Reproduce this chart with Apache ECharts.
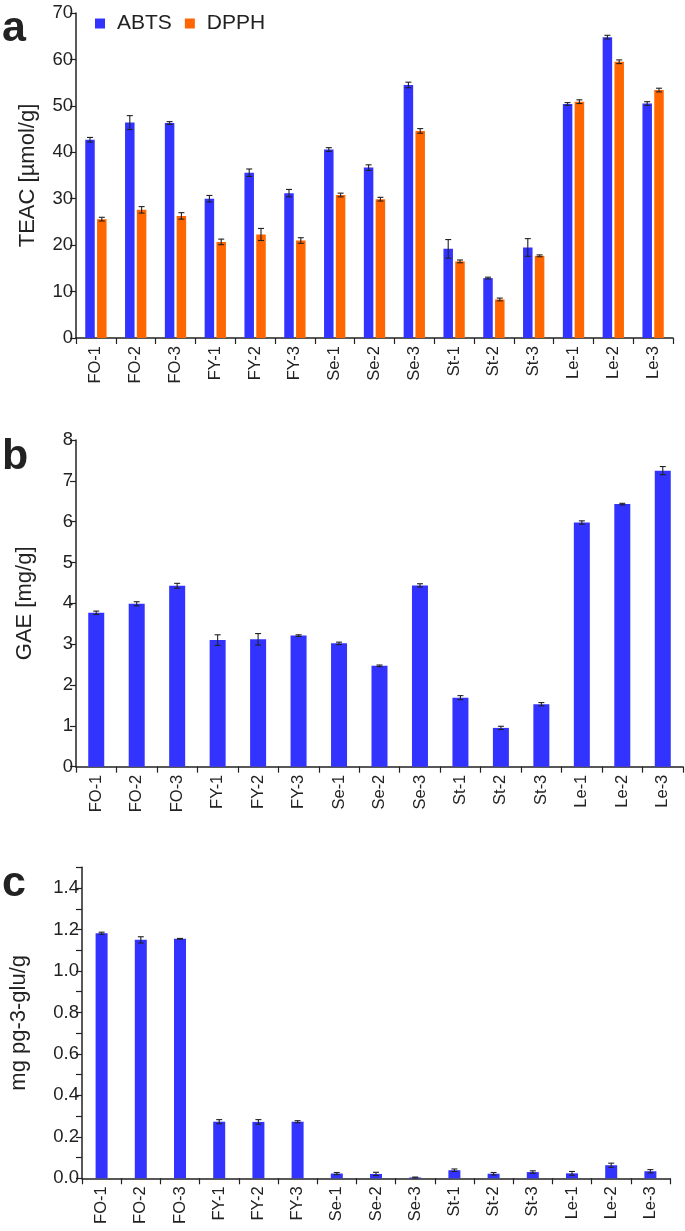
<!DOCTYPE html>
<html>
<head>
<meta charset="utf-8">
<script src="https://cdn.jsdelivr.net/npm/echarts@6/dist/echarts.min.js"></script>
<style>
html,body{margin:0;padding:0;background:#fff;}
#chart{width:685px;height:1231px;}
</style>
</head>
<body>
<div id="chart"></div>
<script>
const categories = ['FO-1','FO-2','FO-3','FY-1','FY-2','FY-3','Se-1','Se-2','Se-3','St-1','St-2','St-3','Le-1','Le-2','Le-3'];

// Panel a: TEAC [µmol/g]
const abts    = [42.7, 46.4, 46.3, 30.0, 35.6, 31.2, 40.6, 36.7, 54.5, 19.2, 12.9, 19.5, 50.4, 64.8, 50.5];
const abtsErr = [0.5, 1.5, 0.3, 0.7, 0.8, 0.8, 0.4, 0.6, 0.6, 2.0, 0.2, 1.9, 0.3, 0.4, 0.4];
const dpph    = [25.6, 27.6, 26.3, 20.7, 22.3, 21.0, 30.8, 29.9, 44.6, 16.5, 8.3, 17.7, 50.9, 59.5, 53.4];
const dpphErr = [0.4, 0.7, 0.7, 0.6, 1.3, 0.6, 0.4, 0.4, 0.5, 0.3, 0.3, 0.2, 0.4, 0.4, 0.4];

// Panel b: GAE [mg/g]
const gae    = [3.77, 3.99, 4.43, 3.10, 3.12, 3.21, 3.02, 2.47, 4.44, 1.69, 0.95, 1.53, 5.98, 6.43, 7.25];
const gaeErr = [0.04, 0.05, 0.06, 0.13, 0.14, 0.02, 0.03, 0.02, 0.04, 0.05, 0.04, 0.04, 0.04, 0.02, 0.10];

// Panel c: mg pg-3-glu/g
const anth    = [1.182, 1.150, 1.155, 0.273, 0.272, 0.273, 0.023, 0.021, 0.004, 0.039, 0.022, 0.030, 0.024, 0.063, 0.034];
const anthErr = [0.005, 0.015, 0.002, 0.010, 0.011, 0.005, 0.005, 0.008, 0.002, 0.006, 0.006, 0.006, 0.009, 0.010, 0.008];

const ticksA = [0, 70, 10];
const ticksB = [0, 8, 1];
const ticksC = [0, 1.5, 0.1];

const BLUE = '#3333ff';
const ORANGE = '#ff6600';
const INK = '#222222';
const FONT = '"Liberation Sans", Arial, Helvetica, sans-serif';

const chart = echarts.init(document.getElementById('chart'), null, {renderer: 'canvas'});

const barWA = 9.5, gapA = 2.3;

function errSeries(xi, yi, vals, errs, offset) {
  return {
    type: 'custom',
    xAxisIndex: xi, yAxisIndex: yi,
    z: 10,
    silent: true,
    data: vals.map((v, i) => [i, v - errs[i], v + errs[i]]),
    encode: {x: 0, y: [1, 2]},
    renderItem: function (params, api) {
      const lo = api.coord([api.value(0), api.value(1)]);
      const hi = api.coord([api.value(0), api.value(2)]);
      const x = lo[0] + offset;
      const hw = 3;
      const st = {stroke: INK, lineWidth: 1.1};
      return {
        type: 'group',
        children: [
          {type: 'line', shape: {x1: x, y1: lo[1], x2: x, y2: hi[1]}, style: st},
          {type: 'line', shape: {x1: x - hw, y1: lo[1], x2: x + hw, y2: lo[1]}, style: st},
          {type: 'line', shape: {x1: x - hw, y1: hi[1], x2: x + hw, y2: hi[1]}, style: st}
        ]
      };
    }
  };
}

function xAxisDef(gi) {
  return {
    type: 'category', gridIndex: gi, data: categories,
    axisLine: {lineStyle: {color: INK, width: 1.5}},
    axisTick: {show: true, length: 6, lineStyle: {color: INK, width: 1.2}},
    axisLabel: {rotate: 90, fontSize: 16.5, color: INK, fontFamily: FONT, margin: 8, interval: 0}
  };
}

function yAxisDef(gi, t, name, opts) {
  return Object.assign({
    type: 'value', gridIndex: gi, min: t[0], max: t[1], interval: t[2],
    name: name, nameLocation: 'middle', nameGap: 38,
    nameTextStyle: {fontSize: 22, color: INK, fontFamily: FONT},
    axisLine: {show: true, lineStyle: {color: INK, width: 1.5}},
    axisTick: {show: true, length: 6, lineStyle: {color: INK, width: 1.2}},
    axisLabel: {fontSize: 18.5, color: INK, fontFamily: FONT, margin: 3},
    splitLine: {show: false}
  }, opts || {});
}

const option = {
  animation: false,
  backgroundColor: '#ffffff',
  textStyle: {fontFamily: FONT},
  grid: [
    {left: 76, top: 13, width: 597, height: 325},
    {left: 76, top: 440, width: 607, height: 326.7},
    {left: 76, top: 867.3, width: 594, height: 311}
  ],
  legend: {
    left: 95, top: 13, padding: 0, itemWidth: 10, itemHeight: 10, itemGap: 13,
    icon: 'rect',
    textStyle: {fontSize: 21, color: INK, fontFamily: FONT, padding: [0, 0, 0, 7]},
    data: ['ABTS', 'DPPH']
  },
  xAxis: [xAxisDef(0), xAxisDef(1), xAxisDef(2)],
  yAxis: [
    yAxisDef(0, ticksA, 'TEAC [µmol/g]', {nameGap: 37}),
    yAxisDef(1, ticksB, 'GAE [mg/g]', {nameGap: 40}),
    yAxisDef(2, ticksC, 'mg pg-3-glu/g', {
      nameGap: 52,
      axisLabel: {fontSize: 18.5, color: INK, fontFamily: FONT, margin: 3,
        formatter: function (v) {
          const k = Math.round(v * 10);
          return (k % 2 === 0 && k < 15) ? v.toFixed(1) : '';
        }}
    })
  ],
  graphic: [
    {type: 'text', left: 2, top: 8, style: {text: 'a', font: 'bold 43px ' + FONT, fill: INK}},
    {type: 'text', left: 2, top: 436, style: {text: 'b', font: 'bold 43px ' + FONT, fill: INK}},
    {type: 'text', left: 2, top: 863, style: {text: 'c', font: 'bold 43px ' + FONT, fill: INK}}
  ],
  series: [
    {name: 'ABTS', type: 'bar', xAxisIndex: 0, yAxisIndex: 0, data: abts,
      barWidth: barWA, barGap: (gapA / barWA * 100) + '%', itemStyle: {color: BLUE}},
    {name: 'DPPH', type: 'bar', xAxisIndex: 0, yAxisIndex: 0, data: dpph,
      barWidth: barWA, barGap: (gapA / barWA * 100) + '%', itemStyle: {color: ORANGE}},
    errSeries(0, 0, abts, abtsErr, -(barWA + gapA) / 2),
    errSeries(0, 0, dpph, dpphErr, (barWA + gapA) / 2),
    {name: 'GAE', type: 'bar', xAxisIndex: 1, yAxisIndex: 1, data: gae,
      barWidth: 16, itemStyle: {color: BLUE}},
    errSeries(1, 1, gae, gaeErr, 0),
    {name: 'Anthocyanin', type: 'bar', xAxisIndex: 2, yAxisIndex: 2, data: anth,
      barWidth: 12, itemStyle: {color: BLUE}},
    errSeries(2, 2, anth, anthErr, 0)
  ]
};

chart.setOption(option);
</script>
</body>
</html>
